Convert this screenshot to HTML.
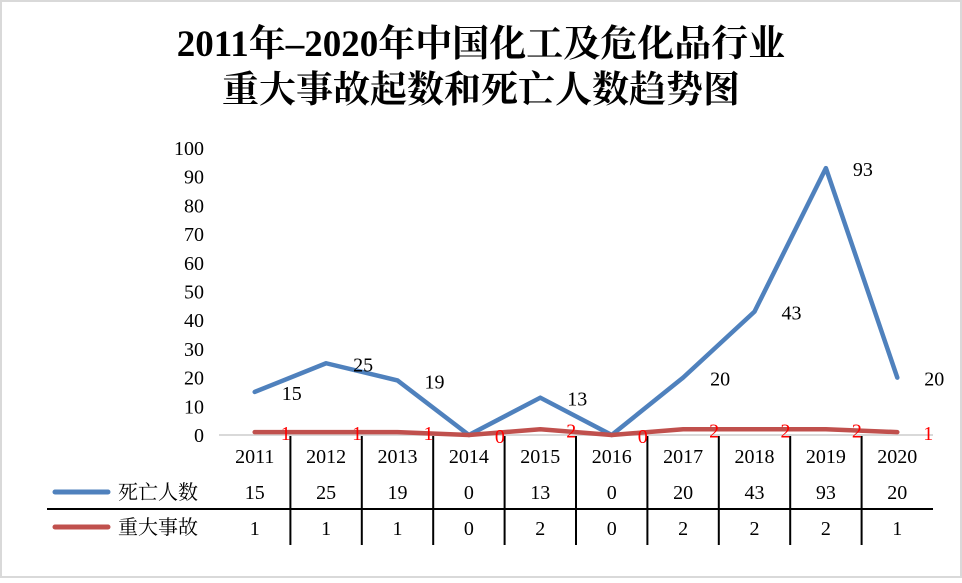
<!DOCTYPE html>
<html><head><meta charset="utf-8"><style>
body{margin:0;background:#fff}
svg text{font-family:"Liberation Serif","Noto Serif CJK SC",serif}
</style></head><body>
<svg width="962" height="578" xmlns="http://www.w3.org/2000/svg">
<rect x="1" y="1" width="960" height="576" fill="#fff" stroke="#d9d9d9" stroke-width="2"/>
<text x="481" y="56" text-anchor="middle" font-size="37" font-weight="bold">2011年–2020年中国化工及危化品行业</text>
<text x="481" y="102" text-anchor="middle" font-size="37" font-weight="bold">重大事故起数和死亡人数趋势图</text>
<g id="axes"></g>
<g id="table"></g>
<g id="series"></g>
</svg>
<script>
const categories=["2011","2012","2013","2014","2015","2016","2017","2018","2019","2020"];
const deaths=[15,25,19,0,13,0,20,43,93,20];
const accidents=[1,1,1,0,2,0,2,2,2,1];
const yTicks=[0,10,20,30,40,50,60,70,80,90,100];
const NS="http://www.w3.org/2000/svg";
const X0=219,X1=933,Y0=435,Y1=148;
const bw=(X1-X0)/categories.length;
const xs=i=>X0+bw*(i+0.5);
const ys=v=>Y0-(v/100)*(Y0-Y1);
function mk(tag,attrs,parent,txt){const e=document.createElementNS(NS,tag);for(const k in attrs)e.setAttribute(k,attrs[k]);if(txt!==undefined)e.textContent=txt;parent.appendChild(e);return e;}
const ax=document.getElementById('axes'),tb=document.getElementById('table'),sr=document.getElementById('series');
yTicks.forEach(t=>{const e=mk('text',{x:204,y:ys(t)+7,'text-anchor':'end','font-size':20},ax,String(t));

});
const axl=mk('line',{x1:X0,y1:Y0,x2:X1,y2:Y0,stroke:'#d9d9d9','stroke-width':2},ax);


for(let i=1;i<categories.length;i++){const l=mk('line',{x1:X0+bw*i,y1:436,x2:X0+bw*i,y2:545,stroke:'#000','stroke-width':2},tb);

}
const hl=mk('line',{x1:47,y1:509,x2:X1,y2:509,stroke:'#000','stroke-width':2},tb);


categories.forEach((c,i)=>{
const a=mk('text',{x:xs(i),y:463,'text-anchor':'middle','font-size':20},tb,c);


const b=mk('text',{x:xs(i),y:499,'text-anchor':'middle','font-size':20},tb,String(deaths[i]));


const d=mk('text',{x:xs(i),y:535,'text-anchor':'middle','font-size':20},tb,String(accidents[i]));


});
const lg1=mk('line',{x1:55,y1:492,x2:108,y2:492,stroke:'#4f81bd','stroke-width':5,'stroke-linecap':'round'},tb);


const lt1=mk('text',{x:118,y:499,'font-size':20},tb,'死亡人数');


const lg2=mk('line',{x1:55,y1:527,x2:108,y2:527,stroke:'#c0504d','stroke-width':5,'stroke-linecap':'round'},tb);


const lt2=mk('text',{x:118,y:534,'font-size':20},tb,'重大事故');


const p1=mk('polyline',{points:deaths.map((v,i)=>xs(i)+','+ys(v)).join(' '),fill:'none',stroke:'#4f81bd','stroke-width':4.5,'stroke-linejoin':'round','stroke-linecap':'round'},sr);


const p2=mk('polyline',{points:accidents.map((v,i)=>xs(i)+','+ys(v)).join(' '),fill:'none',stroke:'#c0504d','stroke-width':4.5,'stroke-linejoin':'round','stroke-linecap':'round'},sr);


deaths.forEach((v,i)=>{if(v===0)return;const t=mk('text',{x:xs(i)+37,y:ys(v)+8,'text-anchor':'middle','font-size':20},sr,String(v));

});
accidents.forEach((v,i)=>{const t=mk('text',{x:xs(i)+31,y:ys(v)+8,'text-anchor':'middle','font-size':20,fill:'#ff0000'},sr,String(v));

});
</script>
</body></html>
